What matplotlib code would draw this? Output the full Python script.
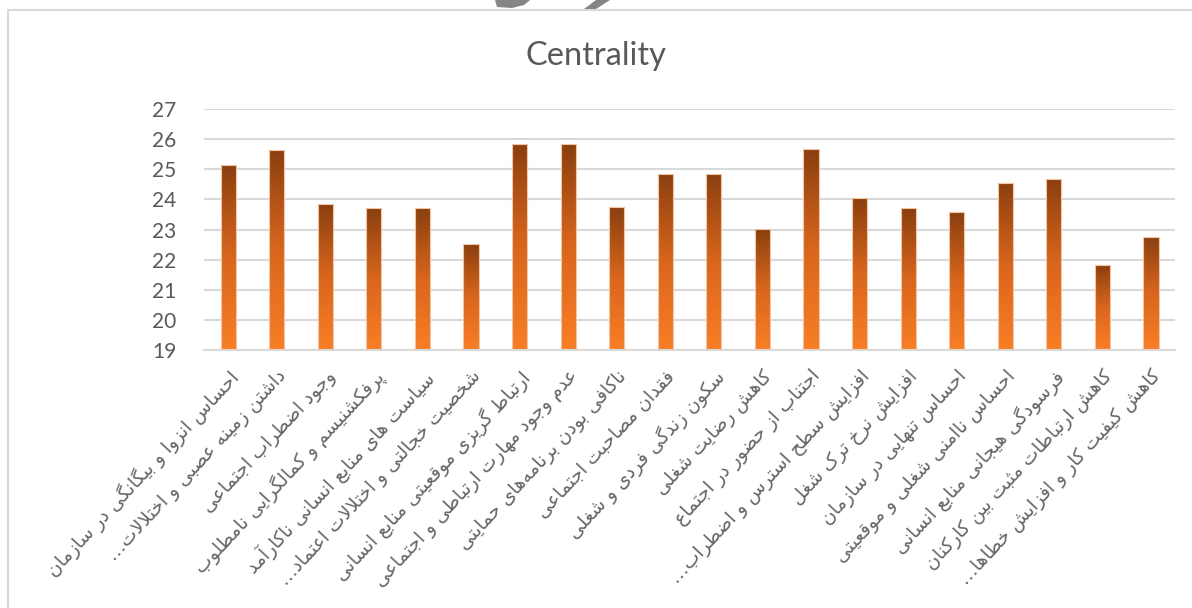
import numpy as np
import matplotlib
matplotlib.use('Agg')
import matplotlib.pyplot as plt
from matplotlib.colors import LinearSegmentedColormap
from matplotlib.patches import Rectangle, Polygon

# data
labels = [
    "احساس انزوا و بیگانگی در سازمان",
    "داشتن زمینه عصبی و اختلالات…",
    "وجود اضطراب اجتماعی",
    "پرفکشنیسم و کمالگرایی نامطلوب",
    "سیاست های منابع انسانی ناکارآمد",
    "شخصیت خجالتی و اختلالات اعتماد…",
    "ارتباط گریزی موقعیتی منابع انسانی",
    "عدم وجود مهارت ارتباطی و اجتماعی",
    "ناکافی بودن برنامه\u200cهای حمایتی",
    "فقدان مصاحبت اجتماعی",
    "سکون زندگی فردی و شغلی",
    "کاهش رضایت شغلی",
    "اجتناب از حضور در اجتماع",
    "افزایش سطح استرس و اضطراب…",
    "افزایش نرخ ترک شغل",
    "احساس تنهایی در سازمان",
    "احساس ناامنی شغلی و موقعیتی",
    "فرسودگی هیجانی منابع انسانی",
    "کاهش ارتباطات مثبت بین کارکنان",
    "کاهش کیفیت کار و افزایش خطاها…",
]
centrality = [25.15, 25.63, 23.83, 23.70, 23.70, 22.51, 25.85, 25.85, 23.75, 24.85,
              24.85, 23.03, 25.66, 24.04, 23.70, 23.57, 24.55, 24.69, 21.83, 22.76]
y_ticks = [19, 20, 21, 22, 23, 24, 25, 26, 27]

# isolated, final, initial, medial presentation forms
FORMS = {
    '\u0627': ('\uFE8D', '\uFE8E', None, None),
    '\u0622': ('\uFE81', '\uFE82', None, None),
    '\u0628': ('\uFE8F', '\uFE90', '\uFE91', '\uFE92'),
    '\u067E': ('\uFB56', '\uFB57', '\uFB58', '\uFB59'),
    '\u062A': ('\uFE95', '\uFE96', '\uFE97', '\uFE98'),
    '\u062B': ('\uFE99', '\uFE9A', '\uFE9B', '\uFE9C'),
    '\u062C': ('\uFE9D', '\uFE9E', '\uFE9F', '\uFEA0'),
    '\u0686': ('\uFB7A', '\uFB7B', '\uFB7C', '\uFB7D'),
    '\u062D': ('\uFEA1', '\uFEA2', '\uFEA3', '\uFEA4'),
    '\u062E': ('\uFEA5', '\uFEA6', '\uFEA7', '\uFEA8'),
    '\u062F': ('\uFEA9', '\uFEAA', None, None),
    '\u0630': ('\uFEAB', '\uFEAC', None, None),
    '\u0631': ('\uFEAD', '\uFEAE', None, None),
    '\u0632': ('\uFEAF', '\uFEB0', None, None),
    '\u0698': ('\uFB8A', '\uFB8B', None, None),
    '\u0633': ('\uFEB1', '\uFEB2', '\uFEB3', '\uFEB4'),
    '\u0634': ('\uFEB5', '\uFEB6', '\uFEB7', '\uFEB8'),
    '\u0635': ('\uFEB9', '\uFEBA', '\uFEBB', '\uFEBC'),
    '\u0636': ('\uFEBD', '\uFEBE', '\uFEBF', '\uFEC0'),
    '\u0637': ('\uFEC1', '\uFEC2', '\uFEC3', '\uFEC4'),
    '\u0638': ('\uFEC5', '\uFEC6', '\uFEC7', '\uFEC8'),
    '\u0639': ('\uFEC9', '\uFECA', '\uFECB', '\uFECC'),
    '\u063A': ('\uFECD', '\uFECE', '\uFECF', '\uFED0'),
    '\u0641': ('\uFED1', '\uFED2', '\uFED3', '\uFED4'),
    '\u0642': ('\uFED5', '\uFED6', '\uFED7', '\uFED8'),
    '\u06A9': ('\uFB8E', '\uFB8F', '\uFB90', '\uFB91'),
    '\u06AF': ('\uFB92', '\uFB93', '\uFB94', '\uFB95'),
    '\u0644': ('\uFEDD', '\uFEDE', '\uFEDF', '\uFEE0'),
    '\u0645': ('\uFEE1', '\uFEE2', '\uFEE3', '\uFEE4'),
    '\u0646': ('\uFEE5', '\uFEE6', '\uFEE7', '\uFEE8'),
    '\u0647': ('\uFEE9', '\uFEEA', '\uFEEB', '\uFEEC'),
    '\u0648': ('\uFEED', '\uFEEE', None, None),
    '\u06CC': ('\uFBFC', '\uFBFD', '\uFBFE', '\uFBFF'),
}
LAM_ALEF = {'\u0627': ('\uFEFB', '\uFEFC'), '\u0622': ('\uFEF5', '\uFEF6')}


def joins_next(c):
    return c in FORMS and FORMS[c][2] is not None


def shape_fa(text):
    """Very small Persian shaper: contextual forms, lam-alef, then reverse for RTL."""
    out = []
    n = len(text)
    i = 0
    while i < n:
        c = text[i]
        if c not in FORMS:
            if c != '\u200c':
                out.append(c)
            i += 1
            continue
        prev = text[i - 1] if i > 0 else ''
        nxt = text[i + 1] if i + 1 < n else ''
        p = joins_next(prev)
        if c == '\u0644' and nxt in LAM_ALEF:
            out.append(LAM_ALEF[nxt][1] if p else LAM_ALEF[nxt][0])
            i += 2
            continue
        nx = joins_next(c) and nxt in FORMS
        iso, fin, ini, med = FORMS[c]
        if p and nx:
            out.append(med)
        elif p:
            out.append(fin)
        elif nx:
            out.append(ini)
        else:
            out.append(iso)
        i += 1
    return ''.join(reversed(out))


text_color = '#595959'
label_color = '#666666'
grid_color = '#D9D9D9'

fig = plt.figure(figsize=(11.92, 6.08), dpi=100)
fig.patches.append(Rectangle((8 / 1192, -0.05), 1.1, 1 - 10 / 608 + 0.05,
                             transform=fig.transFigure, fill=False,
                             edgecolor='#D9D9D9', linewidth=1.5))

# bits of a grey shape peeking in above the chart frame
W, H = 1192.0, 608.0
for pts in ([(495, 0), (530, 0), (524, 5), (512, 8), (497, 7)],
            [(596, 0), (610, 0), (596, 9), (584, 9)]):
    fig.patches.append(Polygon([(px / W, 1 - py / H) for px, py in pts],
                               closed=True, transform=fig.transFigure,
                               facecolor='#858585', edgecolor='none'))

ax = fig.add_axes([0.171, 0.424, 0.815, 0.397])

x = np.arange(len(centrality))
bars = ax.bar(x, centrality, width=0.31, color='none', edgecolor='#F2C6A4',
              linewidth=0.8, zorder=3)

cmap = LinearSegmentedColormap.from_list('bar_grad', ['#F97E26', '#D9661D', '#8A3F0F'])
grad = np.linspace(0, 1, 256).reshape(-1, 1)
for bar in bars:
    x0 = bar.get_x()
    x1 = x0 + bar.get_width()
    img = ax.imshow(grad, cmap=cmap, origin='lower', aspect='auto',
                    extent=[x0, x1, y_ticks[0], bar.get_height()], zorder=2)
    img.set_clip_path(bar)

ax.set_xlim(-0.5, len(centrality) - 0.5)
ax.set_ylim(y_ticks[0], y_ticks[-1])
ax.set_yticks(y_ticks)
ax.yaxis.grid(True, color=grid_color, linewidth=1.5, zorder=0)
ax.set_axisbelow(True)
for side in ['top', 'right', 'left']:
    ax.spines[side].set_visible(False)
ax.spines['bottom'].set_color(grid_color)
ax.spines['bottom'].set_linewidth(1.5)
ax.tick_params(axis='both', length=0, colors=text_color)
ax.tick_params(axis='y', labelsize=15, pad=20)
for t in ax.get_yticklabels():
    t.set_fontfamily('Lato')

ax.set_xticks(x)
ax.set_xticklabels([shape_fa(s) for s in labels], rotation=47, ha='right',
                   rotation_mode='anchor', fontsize=13.5, color=label_color,
                   fontfamily='DejaVu Sans')
ax.tick_params(axis='x', pad=12)

fig.text(0.5, 1 - 56 / 608, 'Centrality', ha='center', va='center',
         fontsize=23.5, color=text_color, fontfamily='Lato')

fig.savefig('out.png', dpi=100)
